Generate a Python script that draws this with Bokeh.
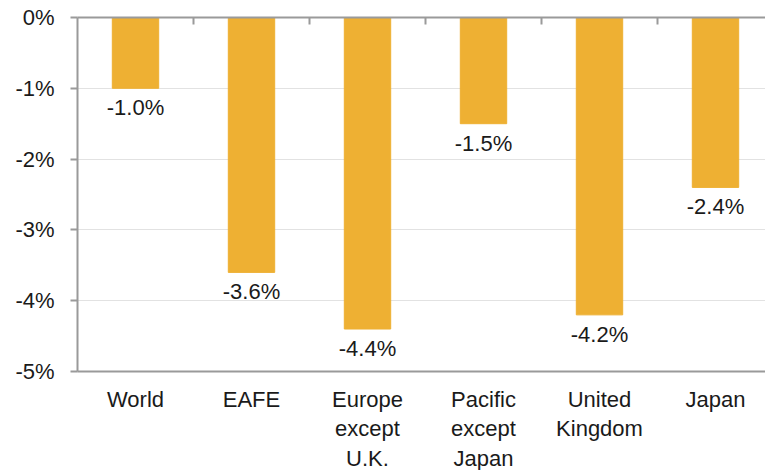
from bokeh.plotting import figure
from bokeh.models import Range1d, FixedTicker, LinearAxis, CustomJSTickFormatter, ColumnDataSource
from bokeh.core.properties import value
from bokeh.embed import file_html
from bokeh.resources import INLINE

# Regional returns (%)
categories = ["World", "EAFE", "Europe\nexcept\nU.K.", "Pacific\nexcept\nJapan",
              "United\nKingdom", "Japan"]
returns = [-1.0, -3.6, -4.4, -1.5, -4.2, -2.4]
y_ticks = [0, -1, -2, -3, -4, -5]
y_tick_labels = ["0%", "-1%", "-2%", "-3%", "-4%", "-5%"]

FONT = "Liberation Sans"
SIZE = "22px"
BAR = "#EEB033"
AXIS = "#9a9a9a"
TEXT = "#1a1a1a"

n = len(categories)
xs = [i + 0.5 for i in range(n)]
src = ColumnDataSource(dict(x=xs, v=returns,
                            lab=[f"{v:.1f}%" for v in returns]))

p = figure(frame_width=688, frame_height=354,
           x_range=Range1d(0, 688 / 116), y_range=Range1d(-5, 0),
           output_backend="svg", toolbar_location=None,
           x_axis_location=None, y_axis_location=None,
           min_border_left=77, min_border_right=0,
           min_border_top=17, min_border_bottom=99)
p.outline_line_color = None
p.background_fill_color = "white"

p.vbar(x="x", top=0, bottom="v", width=0.4, color=BAR, source=src)
p.text(x="x", y="v", text="lab", source=src, text_align="center",
       text_baseline="top", y_offset=7, text_font=value(FONT),
       text_font_size=SIZE, text_color=TEXT)

# category separator ticks hanging from the zero line
seps = list(range(1, n))
p.segment(x0=seps, x1=seps, y0=[0] * len(seps), y1=[-0.1] * len(seps),
          line_color=AXIS, line_width=2)

# left value axis
ya = LinearAxis(ticker=FixedTicker(ticks=y_ticks))
ya.major_label_overrides = {t: l for t, l in zip(y_ticks, y_tick_labels)}
ya.axis_line_color = AXIS
ya.axis_line_width = 2
ya.major_tick_line_color = AXIS
ya.major_tick_line_width = 2
ya.major_tick_out = 7
ya.major_tick_in = 0
ya.minor_tick_line_color = None
ya.major_label_standoff = 16
ya.major_label_text_font = FONT
ya.major_label_text_font_size = SIZE
ya.major_label_text_color = TEXT
p.add_layout(ya, "left")

# bottom category axis
xa = LinearAxis(ticker=FixedTicker(ticks=xs))
xa.formatter = CustomJSTickFormatter(args=dict(labels=categories),
                                     code="return labels[Math.floor(tick)];")
xa.axis_line_color = AXIS
xa.axis_line_width = 2
xa.major_tick_line_color = None
xa.major_tick_out = 0
xa.major_tick_in = 0
xa.minor_tick_line_color = None
xa.major_label_standoff = 15
xa.major_label_text_font = FONT
xa.major_label_text_font_size = SIZE
xa.major_label_text_color = TEXT
xa.major_label_text_line_height = 1.18
p.add_layout(xa, "below")

# zero line along the top edge
ta = LinearAxis(ticker=FixedTicker(ticks=[]))
ta.axis_line_color = AXIS
ta.axis_line_width = 2
ta.major_tick_line_color = None
ta.minor_tick_line_color = None
p.add_layout(ta, "above")

p.xgrid.visible = False
p.ygrid.ticker = FixedTicker(ticks=[-1, -2, -3, -4])
p.ygrid.grid_line_color = "#e2e2e2"
p.ygrid.grid_line_width = 1

open("out.html", "w").write(file_html(p, INLINE))
